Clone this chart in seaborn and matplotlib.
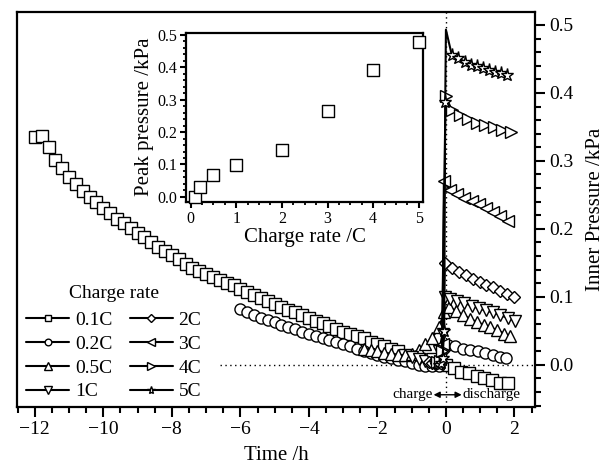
import matplotlib
matplotlib.use("Agg")
import matplotlib.pyplot as plt
from matplotlib.ticker import MultipleLocator, FormatStrFormatter
import seaborn as sns

sns.set_theme(style="ticks")
plt.rcParams["font.family"] = ["Liberation Serif", "DejaVu Serif"]
plt.rcParams["axes.edgecolor"] = "black"
plt.rcParams["xtick.color"] = "black"
plt.rcParams["ytick.color"] = "black"
plt.rcParams["text.color"] = "black"
plt.rcParams["axes.labelcolor"] = "black"

# ---- pressure traces (time in h relative to end of charge, pressure in kPa) ----
rate_labels = ["0.1C", "0.2C", "0.5C", "1C", "2C", "3C", "4C", "5C"]
rate_markers = ["s", "o", "^", "v", "D", "<", ">", "*"]

t_01c = [-12.0, -11.8, -11.6, -11.4, -11.2, -11.0, -10.8, -10.6, -10.4, -10.2,
         -10.0, -9.8, -9.6, -9.4, -9.2, -9.0, -8.8, -8.6, -8.4, -8.2,
         -8.0, -7.8, -7.6, -7.4, -7.2, -7.0, -6.8, -6.6, -6.4, -6.2,
         -6.0, -5.8, -5.6, -5.4, -5.2, -5.0, -4.8, -4.6, -4.4, -4.2,
         -4.0, -3.8, -3.6, -3.4, -3.2, -3.0, -2.8, -2.6, -2.4, -2.2,
         -2.0, -1.8, -1.6, -1.4, -1.2, -1.0, -0.8, -0.6, -0.4, -0.2,
         0.0, 0.225, 0.45, 0.675, 0.9, 1.125, 1.35, 1.575, 1.8]
p_01c = [0.335, 0.336, 0.321, 0.302, 0.289, 0.277, 0.266, 0.255, 0.247, 0.240,
         0.231, 0.223, 0.215, 0.208, 0.202, 0.194, 0.188, 0.180, 0.174, 0.168,
         0.162, 0.155, 0.149, 0.143, 0.138, 0.134, 0.129, 0.125, 0.121, 0.117,
         0.112, 0.107, 0.103, 0.098, 0.094, 0.090, 0.085, 0.081, 0.077, 0.073,
         0.069, 0.064, 0.061, 0.057, 0.052, 0.048, 0.045, 0.042, 0.039, 0.034,
         0.031, 0.027, 0.023, 0.020, 0.015, 0.012, 0.009, 0.006, 0.004, 0.002,
         0.000, -0.005, -0.010, -0.012, -0.016, -0.020, -0.022, -0.026, -0.027]

t_02c = [-6.0, -5.8, -5.6, -5.4, -5.2, -5.0, -4.8, -4.6, -4.4, -4.2,
         -4.0, -3.8, -3.6, -3.4, -3.2, -3.0, -2.8, -2.6, -2.4, -2.2,
         -2.0, -1.8, -1.6, -1.4, -1.2, -1.0, -0.8, -0.6, -0.4, -0.2,
         0.05, 0.27, 0.49, 0.71, 0.93, 1.15, 1.37, 1.59, 1.76]
p_02c = [0.082, 0.077, 0.073, 0.069, 0.066, 0.063, 0.059, 0.056, 0.052, 0.049,
         0.046, 0.043, 0.040, 0.037, 0.034, 0.030, 0.027, 0.024, 0.021, 0.018,
         0.015, 0.012, 0.010, 0.007, 0.005, 0.002, 0.000, -0.002, -0.002, -0.001,
         0.029, 0.027, 0.024, 0.022, 0.020, 0.017, 0.015, 0.012, 0.010]

t_05c = [-2.4, -2.2, -2.0, -1.8, -1.6, -1.4, -1.2, -1.0, -0.8, -0.6, -0.4, -0.2,
         -0.05, 0.1, 0.3, 0.5, 0.7, 0.9, 1.1, 1.3, 1.5, 1.7, 1.87]
p_05c = [0.024, 0.022, 0.020, 0.018, 0.016, 0.015, 0.014, 0.016, 0.022, 0.030, 0.040, 0.055,
         0.078, 0.085, 0.079, 0.073, 0.068, 0.063, 0.059, 0.055, 0.051, 0.046, 0.042]

t_1c = [-1.0, -0.8, -0.6, -0.4, -0.2, -0.1, -0.02,
        0.12, 0.33, 0.54, 0.75, 0.96, 1.17, 1.38, 1.59, 1.8, 2.02]
p_1c = [0.012, 0.008, 0.006, 0.008, 0.020, 0.045, 0.100,
        0.097, 0.094, 0.091, 0.087, 0.083, 0.080, 0.077, 0.073, 0.069, 0.065]

t_2c = [-0.5, -0.4, -0.3, -0.2, -0.1, -0.03,
        0.17, 0.38, 0.58, 0.78, 0.98, 1.18, 1.38, 1.58, 1.78, 1.98]
p_2c = [0.004, 0.003, 0.003, 0.006, 0.020, 0.150,
        0.142, 0.137, 0.132, 0.127, 0.122, 0.118, 0.114, 0.109, 0.104, 0.100]

t_3c = [-0.33, -0.25, -0.17, -0.1, -0.06,
        0.12, 0.33, 0.54, 0.75, 0.96, 1.17, 1.38, 1.59, 1.8]
p_3c = [0.005, 0.004, 0.008, 0.030, 0.270,
        0.257, 0.251, 0.246, 0.241, 0.236, 0.231, 0.225, 0.219, 0.212]

t_4c = [-0.25, -0.18, -0.12, -0.01,
        0.17, 0.41, 0.65, 0.9, 1.15, 1.4, 1.65, 1.9]
p_4c = [0.004, 0.006, 0.020, 0.395,
        0.375, 0.368, 0.361, 0.356, 0.353, 0.350, 0.346, 0.343]

t_5c = [-0.2, -0.15, -0.1, -0.05, -0.02, 0.0,
        0.17, 0.36, 0.55, 0.72, 0.9, 1.09, 1.25, 1.43, 1.62, 1.77]
p_5c = [0.000, 0.002, 0.010, 0.050, 0.387, 0.493,
        0.456, 0.451, 0.446, 0.441, 0.439, 0.436, 0.434, 0.431, 0.429, 0.426]
# the peak sample of the 5C trace carries no symbol
marks_5c = [i for i in range(len(t_5c)) if i != 5]

series_t = [t_01c, t_02c, t_05c, t_1c, t_2c, t_3c, t_4c, t_5c]
series_p = [p_01c, p_02c, p_05c, p_1c, p_2c, p_3c, p_4c, p_5c]

# ---- peak pressure versus charge rate (inset) ----
peak_rate = [0.1, 0.2, 0.5, 1, 2, 3, 4, 5]
peak_pressure = [0.000, 0.029, 0.069, 0.097, 0.144, 0.266, 0.392, 0.479]

fig = plt.figure(figsize=(6.12, 4.67), dpi=100)
ax = fig.add_axes([17 / 612, 1 - 407 / 467, 518 / 612, 395 / 467])

# reference lines: end of charge and zero gauge pressure
ax.axvline(0, color="black", ls=(0, (1, 2.5)), lw=1.0, zorder=1)
ax.plot([-6.6, 2.6], [0, 0], color="black", ls=(0, (1, 2.5)), lw=1.0, zorder=1)

marker_sizes = {"s": 8, "o": 8, "^": 8.5, "v": 8.5, "D": 6.5, "<": 8.5, ">": 8.5, "*": 9.5}
for lab, mk, tt, pp in zip(rate_labels, rate_markers, series_t, series_p):
    kw = {}
    if lab == "5C":
        kw["markevery"] = marks_5c
    sns.lineplot(x=tt, y=pp, sort=False, estimator=None, ax=ax, color="black",
                 marker=mk, markersize=marker_sizes[mk], markerfacecolor="white",
                 markeredgecolor="black", markeredgewidth=1.0, linewidth=1.5,
                 label=lab, legend=False, zorder=3, **kw)

ax.set_xlim(-12.52, 2.6)
ax.set_ylim(-0.062, 0.519)
ax.xaxis.set_major_locator(MultipleLocator(2))
ax.xaxis.set_minor_locator(MultipleLocator(0.5))
ax.yaxis.set_major_locator(MultipleLocator(0.1))
ax.yaxis.set_minor_locator(MultipleLocator(0.02))
ax.yaxis.set_major_formatter(FormatStrFormatter("%.1f"))
ax.yaxis.tick_right()
ax.yaxis.set_label_position("right")
ax.tick_params(axis="both", which="major", direction="out", length=7, width=1.5,
               labelsize=14, pad=3)
ax.tick_params(axis="both", which="minor", direction="out", length=4, width=1.5)
ax.tick_params(axis="y", which="both", left=False, right=True)
ax.tick_params(axis="x", which="both", top=False, bottom=True)
for s in ax.spines.values():
    s.set_linewidth(1.6)
    s.set_visible(True)
ax.set_xlabel("Time /h", fontsize=15, labelpad=6)
ax.set_ylabel("Inner Pressure /kPa", fontsize=15, labelpad=9)

# charge / discharge marker below the zero line
ax.annotate("", xy=(-0.36, -0.044), xytext=(0.46, -0.044),
            arrowprops=dict(arrowstyle="<|-|>", color="black", lw=1.0,
                            mutation_scale=9, shrinkA=0, shrinkB=0))
ax.text(-0.38, -0.044, "charge", ha="right", va="center", fontsize=11)
ax.text(0.48, -0.044, "discharge", ha="left", va="center", fontsize=11)

handles, labels = ax.get_legend_handles_labels()
keep = [(h, l) for h, l in zip(handles, labels) if l in rate_labels]
leg = ax.legend([h for h, _ in keep], [l for _, l in keep], ncol=2,
                title="Charge rate", loc="upper left",
                bbox_to_anchor=(0.018, 0.31), frameon=False, fontsize=14,
                title_fontsize=14, markerscale=0.6, handlelength=2.2,
                handletextpad=0.3, columnspacing=0.9, labelspacing=0.32,
                borderpad=0, borderaxespad=0)
leg._legend_box.sep = 7

# inset: peak pressure against charge rate
axin = fig.add_axes([186 / 612, 1 - 201.7 / 467, 237 / 612, 169 / 467])
sns.scatterplot(x=peak_rate, y=peak_pressure, marker="s", s=64, facecolor="white",
                edgecolor="black", linewidth=1.0, ax=axin, zorder=3, clip_on=False)
axin.set_xlim(-0.1, 5.09)
axin.set_ylim(-0.015, 0.507)
axin.xaxis.set_major_locator(MultipleLocator(1))
axin.xaxis.set_minor_locator(MultipleLocator(0.25))
axin.yaxis.set_major_locator(MultipleLocator(0.1))
axin.yaxis.set_minor_locator(MultipleLocator(0.02))
axin.yaxis.set_major_formatter(FormatStrFormatter("%.1f"))
axin.tick_params(axis="both", which="major", direction="out", length=4.5, width=1.5,
                 labelsize=11.5, pad=2)
axin.tick_params(axis="both", which="minor", direction="out", length=2.5, width=1.3)
for s in axin.spines.values():
    s.set_linewidth(1.6)
axin.set_xlabel("Charge rate /C", fontsize=15, labelpad=1)
axin.set_ylabel("Peak pressure /kPa", fontsize=15, labelpad=2)

fig.savefig("out.png", dpi=100)
